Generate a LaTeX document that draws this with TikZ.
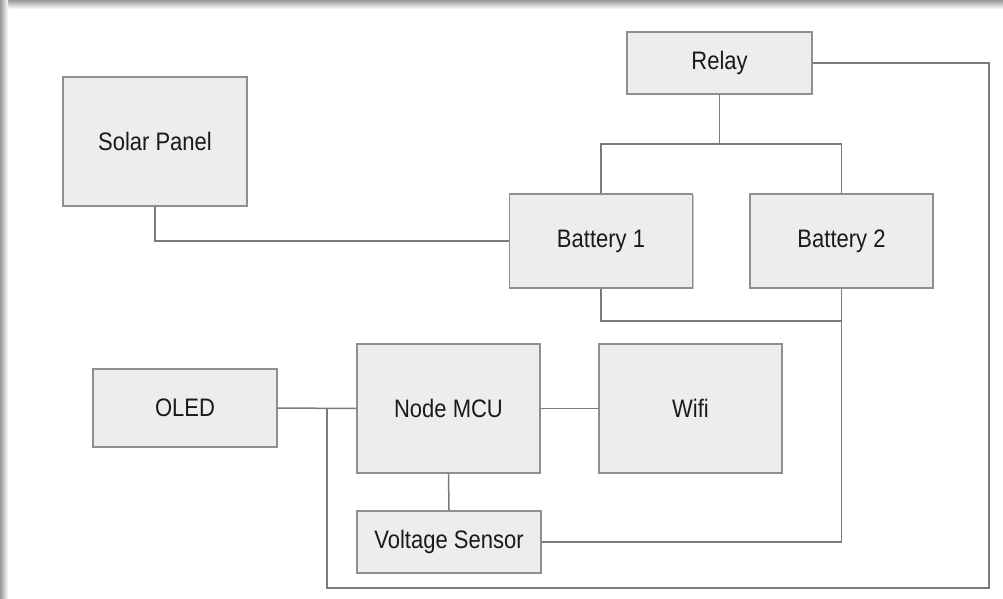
\documentclass[tikz,border=0pt]{standalone}
\usepackage{fontspec}
\setmainfont{Liberation Sans}
\usetikzlibrary{shadows}
\definecolor{boxfill}{HTML}{EDEDED}
\definecolor{boxline}{HTML}{8F8F8F}
\definecolor{wire}{HTML}{7A7A7A}
\definecolor{txt}{HTML}{1A1A1A}
\newcommand{\vtxt}[1]{\scalebox{1}[1.15]{#1}}
\tikzset{
  blockbox/.style={draw=boxline, line width=1.6pt, fill=boxfill, inner sep=0pt,
    text=txt, font=\fontsize{22}{24}\selectfont,
    general shadow={shadow xshift=1.2pt, shadow yshift=-1.2pt, fill=black!22}},
  wireline/.style={draw=wire, line width=1.5pt}
}
\begin{document}
\begin{tikzpicture}[x=1pt, y=-1pt]
\useasboundingbox (0,0) rectangle (1003,599);
\fill[white] (0,0) rectangle (1003,599);
\shade[top color=black!40, bottom color=white] (0,0) rectangle (1003,9);
\shade[left color=black!40, right color=white] (0,0) rectangle (8,599);

\node[blockbox, minimum width=184pt, minimum height=129pt] (solar) at (155,141.5) {\vtxt{Solar Panel}};
\node[blockbox, minimum width=185pt, minimum height=62pt] (relay) at (719.5,63) {\vtxt{Relay}};
\node[blockbox, minimum width=183pt, minimum height=94pt] (bat1) at (601,241) {\vtxt{Battery 1}};
\node[blockbox, minimum width=183pt, minimum height=94pt] (bat2) at (841.5,241) {\vtxt{Battery 2}};
\node[blockbox, minimum width=184pt, minimum height=78pt] (oled) at (185,408) {\vtxt{OLED}};
\node[blockbox, minimum width=183pt, minimum height=129pt] (mcu) at (448.5,408.5) {\vtxt{Node MCU}};
\node[blockbox, minimum width=183pt, minimum height=129pt] (wifi) at (690.5,408.5) {\vtxt{Wifi}};
\node[blockbox, minimum width=184pt, minimum height=62pt] (vs) at (449,542) {\vtxt{Voltage Sensor}};

\coordinate (rj) at (719.5,144);
\coordinate (bj) at (841.5,321);
\coordinate (oj) at (327,408);
\coordinate (br) at (989,588);

\begin{scope}[on background layer/.try]
\end{scope}
\draw[wireline] (solar.south) |- (bat1.west);
\draw[wireline] (relay.south) -- (rj);
\draw[wireline] (bat1.north) |- (rj);
\draw[wireline] (bat2.north) |- (rj);
\draw[wireline] (bat1.south) |- (bj);
\draw[wireline] (bat2.south) |- (vs.east);
\draw[wireline] (oled.east) -- (mcu.west);
\draw[wireline] (mcu.east) -- (wifi.west);
\draw[wireline] (mcu.south) -- (vs.north);
\draw[wireline] (oj) |- (br) |- (relay.east);
\end{tikzpicture}
\end{document}
